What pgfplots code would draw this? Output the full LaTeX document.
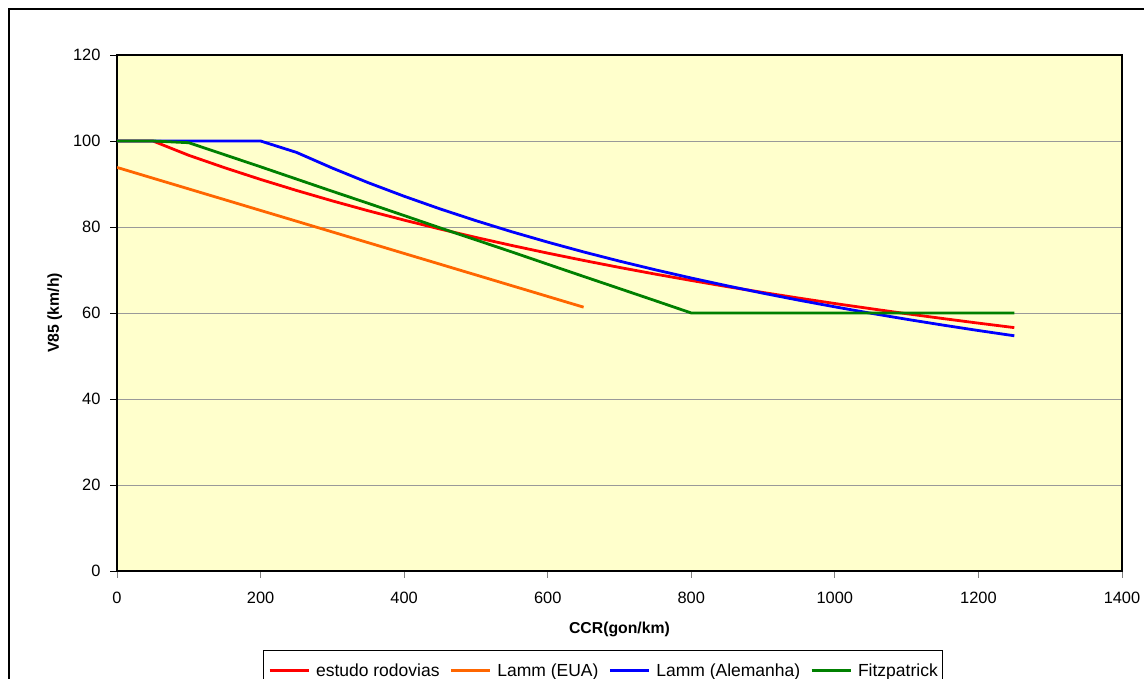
\documentclass[border=0pt]{standalone}
\usepackage{fontspec}
\setmainfont{Liberation Sans}
\usepackage{pgfplots}
\usepackage{pgfplotstable}
\pgfplotsset{compat=1.18}
\definecolor{yellowbg}{HTML}{FFFFCC}
\definecolor{cred}{HTML}{FF0000}
\definecolor{corange}{HTML}{FF6600}
\definecolor{cblue}{HTML}{0000FF}
\definecolor{cgreen}{HTML}{008000}

\pgfplotstableread{
x y
0 100
50 100
100 96.67
150 93.78
200 91.06
250 88.50
300 86.07
350 83.77
400 81.60
450 79.53
500 77.57
550 75.70
600 73.92
650 72.22
700 70.59
750 69.04
800 67.56
850 66.13
900 64.77
950 63.46
1000 62.20
1050 61.00
1100 59.83
1150 58.72
1200 57.64
1250 56.60
}\estudo

\pgfplotstableread{
x y
0 93.85
50 91.35
100 88.85
150 86.35
200 83.85
250 81.35
300 78.85
350 76.35
400 73.85
450 71.35
500 68.85
550 66.35
600 63.85
650 61.35
}\lammeua

\pgfplotstableread{
x y
0 100
50 100
100 100
150 100
200 100
250 97.35
300 93.70
350 90.30
400 87.15
450 84.21
500 81.47
550 78.89
600 76.48
650 74.20
700 72.06
750 70.04
800 68.13
850 66.32
900 64.60
950 62.97
1000 61.43
1050 59.95
1100 58.54
1150 57.20
1200 55.92
1250 54.70
}\lammale

\pgfplotstableread{
x y
0 100
50 100
100 99.6
150 96.8
200 94.0
250 91.15
300 88.3
350 85.5
400 82.66
450 79.8
500 77.0
550 74.2
600 71.34
650 68.5
700 65.68
750 62.85
800 60
850 60
900 60
950 60
1000 60
1050 60
1100 60
1150 60
1200 60
1250 60
}\fitz

\begin{document}
\begin{tikzpicture}[x=1pt,y=1pt]
\path[use as bounding box] (0,0) rectangle (1144,679);
\draw[line width=1.2pt] (9,-30) -- (9,670) -- (1170,670);
\begin{axis}[
  at={(117pt,108pt)}, anchor=south west,
  scale only axis, width=1005pt, height=516pt,
  xmin=0, xmax=1400, ymin=0, ymax=120,
  xtick={0,200,...,1400}, ytick={0,20,...,120},
  xtick pos=bottom, ytick pos=left,
  axis background/.style={fill=yellowbg},
  ymajorgrids, grid style={color=gray!80, line width=0.8pt},
  tick align=outside, major tick length=7pt,
  xtick style={color=gray, line width=0.9pt},
  ytick style={color=black, line width=0.9pt},
  axis line style={black, line width=1.3pt},
  /pgf/number format/assume math mode=true,
  /pgf/number format/1000 sep={},
  ticklabel style={font=\fontsize{16.4}{19}\selectfont},
  xticklabel style={yshift=-11pt},
  yticklabel style={xshift=-6pt},
  xlabel={CCR(gon/km)}, ylabel={V85 (km/h)},
  label style={font=\bfseries\fontsize{15.8}{19}\selectfont},
  xlabel style={at={(0.5,-0.114)}, anchor=center},
  ylabel style={at={(-0.062,0.5)}, anchor=center, rotate=0},
  legend columns=4,
  legend cell align=left,
  legend image code/.code={\draw[#1, line width=2.8pt] (0pt,0pt) -- (39pt,0pt);},
  legend style={at={(0.4836,-0.1531)}, anchor=north, draw=black, line width=1pt, fill=white,
    font=\fontsize{17.5}{21}\selectfont, inner xsep=5pt, inner ysep=9pt,
    nodes={inner xsep=0pt, inner ysep=4pt},
    /tikz/every odd column/.append style={column sep=6pt},
    /tikz/every even column/.append style={column sep=10pt}},
]
\addplot[cred, line width=2.8pt] table[x=x,y=y] {\estudo};
\addlegendentry{estudo rodovias}
\addplot[corange, line width=2.8pt] table[x=x,y=y] {\lammeua};
\addlegendentry{Lamm (EUA)}
\addplot[cblue, line width=2.8pt] table[x=x,y=y] {\lammale};
\addlegendentry{Lamm (Alemanha)}
\addplot[cgreen, line width=2.8pt] table[x=x,y=y] {\fitz};
\addlegendentry{Fitzpatrick}
\end{axis}
\end{tikzpicture}
\end{document}
